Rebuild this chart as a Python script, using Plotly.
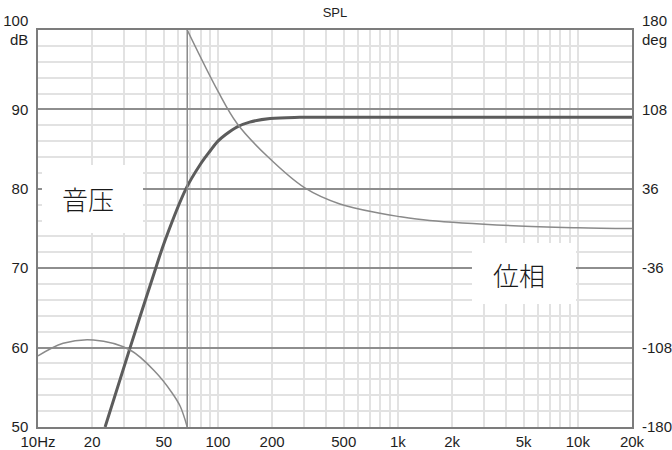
import math
import plotly.graph_objects as go

# Sound pressure level of the driver (dB) against frequency (Hz)
spl_freq = [23.6, 32.5, 45.1, 50.8, 66.4, 79.4, 90, 100, 110, 128, 150, 195, 285,
            500, 1000, 2000, 5000, 10000, 20000]
spl_db = [50.0, 60.0, 70.0, 73.5, 80.0, 83.0, 84.7, 86.0, 86.8, 87.8, 88.4, 88.85, 89.0,
          89.0, 89.0, 89.0, 89.0, 89.0, 89.0]

# Phase (deg), split where it wraps from -180 to +180
phase_low_freq = [10, 13.8, 20.3, 32.5, 45.6, 55, 61.6, 67.5]
phase_low_deg = [-115.6, -104.1, -101.1, -110.2, -131.3, -148.0, -161.0, -180.0]
phase_wrap_freq = 67.5
phase_high_freq = [67.5, 100, 128, 190, 304, 476, 794, 1000, 1500, 4375, 10000, 20000]
phase_high_deg = [180.0, 124.5, 95.0, 64.8, 36.8, 22.2, 13.8, 11.0, 7.2, 2.5, 0.7, -0.1]

# Axis ticks
x_tick_vals = [10, 20, 50, 100, 200, 500, 1000, 2000, 5000, 10000, 20000]
x_tick_text = ["10Hz", "20", "50", "100", "200", "500", "1k", "2k", "5k", "10k", "20k"]
x_minor_vals = [30, 40, 60, 70, 80, 90, 300, 400, 600, 700, 800, 900,
                3000, 4000, 6000, 7000, 8000, 9000]
decade_lines = [100, 1000, 10000]
y_tick_vals = [50, 60, 70, 80, 90, 100]
y_tick_text = ["50", "60", "70", "80", "90", "100<br>dB"]
y2_tick_vals = [-180, -108, -36, 36, 108, 180]
y2_tick_text = ["-180", "-108", "-36", "36", "108", "180<br>deg"]

GRID_LIGHT = "#e2e2e2"
GRID_DARK = "#8e8e8e"
FRAME = "#7c7c7c"
TEXT = "#1e1e1e"
FONT = "Liberation Sans, Arial, sans-serif"
PHASE_COLOR = "#8a8a8a"
LABEL_FONT = dict(family="Noto Sans CJK JP", size=26, color="#1a1a1a", weight=300)

fig = go.Figure()

fig.add_trace(go.Scatter(
    x=phase_low_freq, y=phase_low_deg, yaxis="y2", mode="lines",
    line=dict(color=PHASE_COLOR, width=1.5, shape="spline", smoothing=1.0), hoverinfo="skip"))
fig.add_trace(go.Scatter(
    x=[phase_wrap_freq, phase_wrap_freq], y=[phase_low_deg[-1], phase_high_deg[0]],
    yaxis="y2", mode="lines", line=dict(color=PHASE_COLOR, width=1.5), hoverinfo="skip"))
fig.add_trace(go.Scatter(
    x=phase_high_freq, y=phase_high_deg, yaxis="y2", mode="lines",
    line=dict(color=PHASE_COLOR, width=1.5, shape="spline", smoothing=1.0), hoverinfo="skip"))
fig.add_trace(go.Scatter(
    x=spl_freq, y=spl_db, mode="lines",
    line=dict(color="#5c5c5c", width=3, shape="spline", smoothing=1.0), hoverinfo="skip"))

# darker decade grid lines
for f in decade_lines:
    fig.add_shape(type="line", xref="x", yref="paper", x0=f, x1=f, y0=0, y1=1,
                  line=dict(color=GRID_DARK, width=1.5), layer="between")

# white label panels over the grid (the curves do not pass through them)
fig.add_shape(type="rect", xref="paper", yref="paper", x0=0.0067, x1=0.1768,
              y0=0.4887, y1=0.660, fillcolor="white", line=dict(width=0), layer="above")
fig.add_shape(type="rect", xref="paper", yref="paper", x0=0.7306, x1=0.9057,
              y0=0.3098, y1=0.4635, fillcolor="white", line=dict(width=0), layer="above")

fig.update_layout(
    width=672, height=450,
    margin=dict(l=38, r=40, t=30, b=23, autoexpand=False),
    paper_bgcolor="white", plot_bgcolor="white",
    showlegend=False,
    font=dict(family=FONT, size=14, color=TEXT),
    title=dict(text="SPL", x=0.5, xref="paper", xanchor="center",
               y=1 - 12 / 450, yanchor="middle", font=dict(size=13, color=TEXT)),
    xaxis=dict(
        type="log", range=[1, math.log10(20000)], automargin=False,
        tickvals=x_tick_vals, ticktext=x_tick_text, ticks="",
        showgrid=True, gridcolor=GRID_LIGHT, gridwidth=1.5,
        minor=dict(tickvals=x_minor_vals, showgrid=True, gridcolor=GRID_LIGHT, gridwidth=1.5),
        showline=True, linecolor=FRAME, linewidth=1.5, mirror=True, zeroline=False,
        tickfont=dict(size=15), ticklabelstandoff=0,
    ),
    yaxis=dict(
        range=[50, 100], automargin=False,
        tickvals=y_tick_vals, ticktext=y_tick_text, ticks="",
        showgrid=True, gridcolor=GRID_DARK, gridwidth=1.5,
        minor=dict(dtick=2, tick0=50, showgrid=True, gridcolor=GRID_LIGHT, gridwidth=1.5),
        showline=True, linecolor=FRAME, linewidth=1.5, mirror=True, zeroline=False,
        tickfont=dict(size=15), ticklabelstandoff=5,
    ),
    yaxis2=dict(
        overlaying="y", side="right", range=[-180, 180], automargin=False,
        tickvals=y2_tick_vals, ticktext=y2_tick_text, ticks="",
        showgrid=False, zeroline=False, showline=False,
        tickfont=dict(size=15), ticklabelstandoff=9,
    ),
    annotations=[
        dict(text="音压", xref="paper", yref="paper", x=0.0842, y=0.5768,
             xanchor="center", yanchor="middle", showarrow=False, font=LABEL_FONT),
        dict(text="位相", xref="paper", yref="paper", x=0.8098, y=0.3829,
             xanchor="center", yanchor="middle", showarrow=False, font=LABEL_FONT),
    ],
)

fig.write_html("out.html")
